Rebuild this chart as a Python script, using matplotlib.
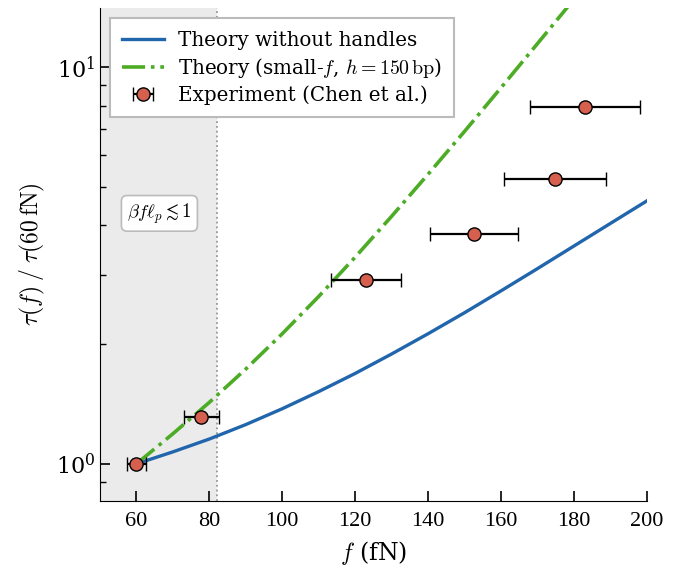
import matplotlib
matplotlib.use("Agg")
import matplotlib.pyplot as plt
import numpy as np

# ---- data ----
theory_f = [60, 70, 80, 90, 100, 110, 120, 130, 140, 150, 160, 170, 180, 190, 200]
theory_tau = [1.0, 1.072, 1.155, 1.256, 1.377, 1.521, 1.690, 1.892, 2.128, 2.404,
              2.729, 3.105, 3.540, 4.036, 4.60]

small_f = [60, 70, 80, 90, 100, 110, 120, 130, 140, 150, 160, 170, 180, 190]
small_tau = [1.0, 1.191, 1.429, 1.734, 2.128, 2.642, 3.319, 4.207, 5.370, 6.887,
             8.872, 11.46, 14.82, 19.23]

exp_f = [60, 77.8, 123.0, 152.6, 174.8, 183.0]
exp_tau = [1.0, 1.314, 2.90, 3.79, 5.21, 7.93]
exp_ferr = [2.6, 4.8, 9.5, 12.0, 14.0, 15.0]

regime_edge = 82.2
labels = ["Theory without handles",
          r"Theory (small-$f$, $h = 150\,\mathrm{bp}$)",
          "Experiment (Chen et al.)"]
xticks = [60, 80, 100, 120, 140, 160, 180, 200]

plt.rcParams['font.family'] = 'serif'
plt.rcParams['font.serif'] = ['DejaVu Serif']
plt.rcParams['mathtext.fontset'] = 'cm'

fig = plt.figure(figsize=(6.83, 5.67), dpi=100)
ax = fig.add_axes([0.1464, 0.1164, 0.8006, 0.8696])

ax.axvspan(50, regime_edge, color='#ebebeb', zorder=0, lw=0)
ax.axvline(regime_edge, color='#999999', ls=':', lw=1.3, zorder=1)

ax.plot(theory_f, theory_tau, color='#2166ac', lw=2.4, label=labels[0], zorder=3)
ax.plot(small_f, small_tau, color='#4dac26', lw=2.6, ls='-.', label=labels[1], zorder=3)
ax.errorbar(exp_f, exp_tau, xerr=exp_ferr, fmt='o', color='black', ecolor='black',
            mfc='#d6604d', mec='black', ms=9.5, mew=1.0, elinewidth=1.6, capsize=5,
            capthick=1.4, label=labels[2], zorder=4)

ax.set_yscale('log')
ax.set_xlim(50, 200)
ax.set_ylim(0.806, 14.1)
ax.set_xticks(xticks)
ax.set_xticklabels([str(t) for t in xticks], family='Liberation Serif', fontsize=16)

for s in ['top', 'right']:
    ax.spines[s].set_visible(False)
ax.tick_params(direction='in', which='both', labelsize=16)
ax.tick_params(which='major', length=7, width=1.2)
ax.tick_params(which='minor', length=4, width=1.0)
ax.tick_params(axis='x', pad=8)

ax.set_xlabel(r'$f$ (fN)', fontsize=17, labelpad=6)
ax.set_ylabel(r'$\tau(f)\;/\;\tau(60\,\mathrm{fN})$', fontsize=17, labelpad=6)

ax.text(66.3, 4.28, r'$\beta f \ell_p \lesssim 1$', fontsize=13.5, ha='center', va='center',
        bbox=dict(boxstyle='round,pad=0.3', fc='white', ec='#bbbbbb', lw=1.2), zorder=5)

leg = ax.legend(loc='upper left', bbox_to_anchor=(0.018, 0.979), borderaxespad=0,
                fontsize=14.3, fancybox=False, edgecolor='#bbbbbb', framealpha=1,
                handlelength=2.1, borderpad=0.62, labelspacing=0.3, handletextpad=0.7)
leg.get_frame().set_linewidth(1.5)

fig.savefig('out.png', dpi=100)
